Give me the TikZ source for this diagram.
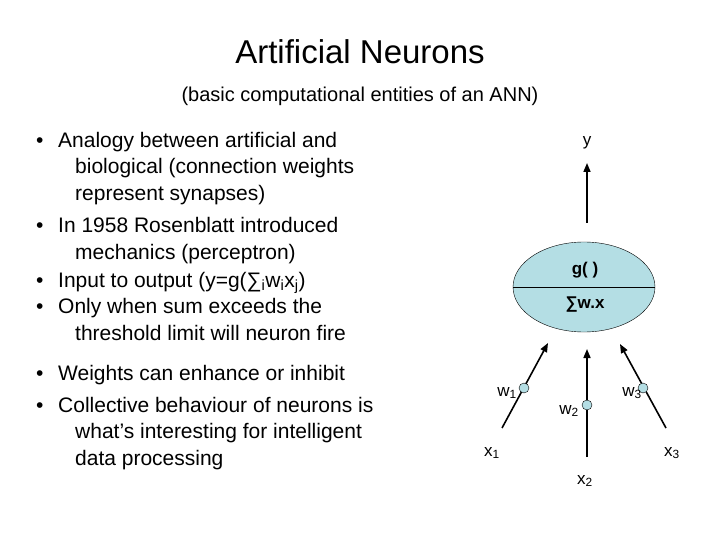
\documentclass[tikz,border=0pt]{standalone}
\usepackage{fontspec}
\setmainfont{Liberation Sans}
\usetikzlibrary{arrows.meta}
\begin{document}
\begin{tikzpicture}[x=1pt,y=-1pt,
  bt/.style={anchor=base west,font=\fontsize{21}{24}\selectfont,inner sep=0},
  lb/.style={font=\fontsize{17}{20}\selectfont,inner sep=0},
  arr/.style={line width=1.6pt,-{Triangle[length=9pt,width=7pt]}},
  wc/.style={circle,draw,fill=cell,minimum size=10pt,inner sep=0}]
\definecolor{cell}{RGB}{180,222,228}
\useasboundingbox (0,0) rectangle (720,540);
\node[font=\fontsize{33}{38}\selectfont] (title) at (360,52) {Artificial Neurons};
\node[font=\fontsize{20}{24}\selectfont] (sub) at (360,96) {(basic computational entities of an ANN)};
\foreach \y/\t/\b in {141/Analogy between artificial and/1, 167/biological (connection weights/0, 194/represent synapses)/0,
 226/In 1958 Rosenblatt introduced/1, 252/mechanics (perceptron)/0,
 280/{Input to output (y=g(∑\textsubscript{i}w\textsubscript{i}x\textsubscript{j})}/1,
 306/Only when sum exceeds the/1, 333/threshold limit will neuron fire/0,
 373/Weights can enhance or inhibit/1, 405/Collective behaviour of neurons is/1,
 431/what’s interesting for intelligent/0, 458/data processing/0}{
  \ifnum\b=1
    \node[bt] at (58,\y+7) {\t};
    \node[bt] at (36,\y+7) {•};
  \else
    \node[bt] at (75,\y+7) {\t};
  \fi}
\draw[fill=cell] (584,287) ellipse (71 and 45);
\draw (513,287) -- (655,287);
\node[font=\bfseries\fontsize{17}{20}\selectfont] (g) at (585,270) {g( )};
\node[font=\bfseries\fontsize{17}{20}\selectfont] (s) at (585,305) {∑w.x};
\coordinate (yt) at (587,223);
\node[lb] (y) at (587,143) {y};
\draw[arr] (yt) -- (587,163);
\coordinate (a1) at (502,428); \coordinate (b1) at (548,343);
\coordinate (a2) at (587,457); \coordinate (b2) at (587,349);
\coordinate (a3) at (666,428); \coordinate (b3) at (620,344);
\draw[arr] (a1) -- (b1); \draw[arr] (a2) -- (b2); \draw[arr] (a3) -- (b3);
\node[wc] (w1c) at (524,388) {}; \node[wc] (w2c) at (587,405) {}; \node[wc] (w3c) at (643,388) {};
\node[lb] (w1) at (507,393) {w\textsubscript{1}};
\node[lb] (w2) at (569,411) {w\textsubscript{2}};
\node[lb] (w3) at (632,393) {w\textsubscript{3}};
\node[lb] (x1) at (492,453) {x\textsubscript{1}};
\node[lb] (x2) at (585,481) {x\textsubscript{2}};
\node[lb] (x3) at (672,453) {x\textsubscript{3}};
\end{tikzpicture}
\end{document}
